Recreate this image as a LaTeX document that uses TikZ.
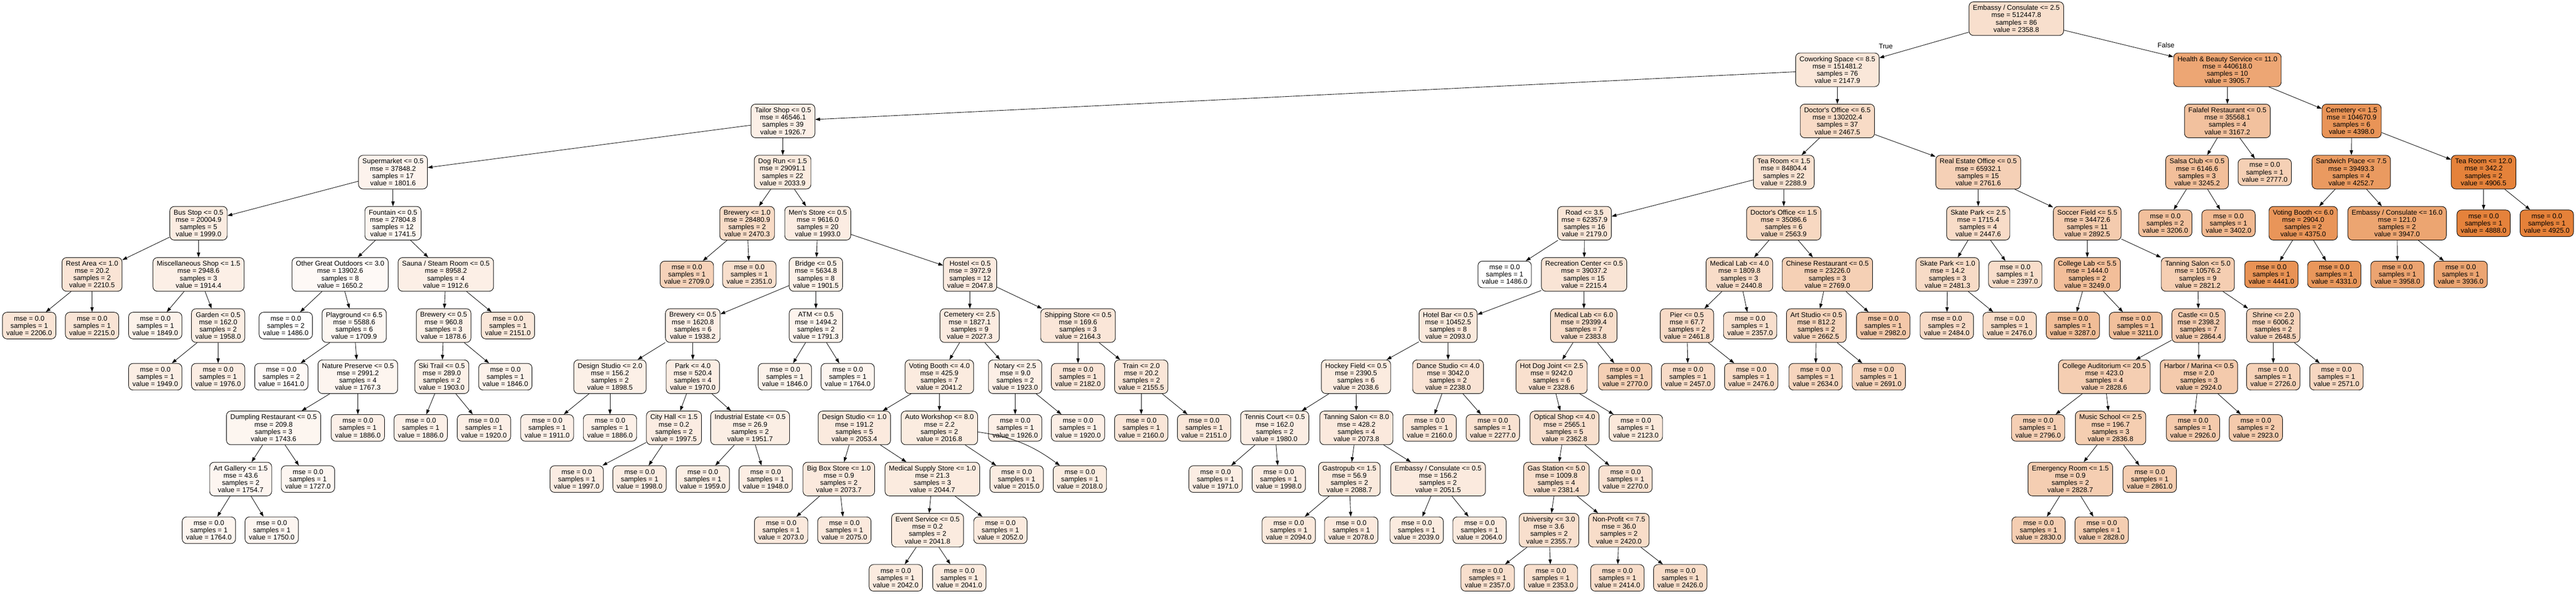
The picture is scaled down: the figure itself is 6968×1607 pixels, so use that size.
\documentclass[tikz,border=0pt]{standalone}
\usepackage{fontspec}
\setmainfont{Liberation Sans}
\usetikzlibrary{arrows.meta}
\definecolor{dtc}{RGB}{229,129,57}
\tikzset{
 dtbox/.style={draw=black, line width=1.3pt, rounded corners=12pt, align=center, inner xsep=10.5pt, inner ysep=0pt, font=\fontsize{18.7pt}{19.7pt}\selectfont},
 innode/.style={dtbox, minimum height=91pt},
 lfnode/.style={dtbox, minimum height=72pt},
 edge/.style={line width=1.2pt, -{Triangle[length=13pt,width=9pt]}},
 edgelabel/.style={font=\fontsize{18.7pt}{19.7pt}\selectfont, inner sep=0pt}
}
\newcommand\dtin[7]{\pgfmathsetmacro\dtpct{min(100,max(0,(#7-1486)/34.39))}\node[innode,fill=dtc!\dtpct!white] (#1) at (#2,{50.5+138.5*#3}) {#4\\mse = #5\\samples = #6\\value = #7};}
\newcommand\dtlf[5]{\pgfmathsetmacro\dtpct{min(100,max(0,(#5-1486)/34.39))}\node[lfnode,fill=dtc!\dtpct!white] (#1) at (#2,{50.5+138.5*#3}) {mse = 0.0\\samples = #4\\value = #5};}
\newcommand\dtedge[2]{\draw[edge] (#1) -- (#2);}
\begin{document}
\begin{tikzpicture}[x=1pt,y=-1pt]
\useasboundingbox (0,0) rectangle (6968,1607);
% rank 0
\dtin{n0}{5454}{0}{Embassy / Consulate <= 2.5}{512447.8}{86}{2358.8}
% rank 1
\dtin{n1}{4970}{1}{Coworking Space <= 8.5}{151481.2}{76}{2147.9}
\dtin{n2}{6025}{1}{Health \& Beauty Service <= 11.0}{440618.0}{10}{3905.7}
% rank 2
\dtin{n3}{2118}{2}{Tailor Shop <= 0.5}{46546.1}{39}{1926.7}
\dtin{n4}{4970}{2}{Doctor\textquotesingle s Office <= 6.5}{130202.4}{37}{2467.5}
\dtin{n5}{6025}{2}{Falafel Restaurant <= 0.5}{35568.1}{4}{3167.2}
\dtin{n6}{6361}{2}{Cemetery <= 1.5}{104670.9}{6}{4398.0}
% rank 3
\dtin{n7}{1063}{3}{Supermarket <= 0.5}{37848.2}{17}{1801.6}
\dtin{n8}{2117}{3}{Dog Run <= 1.5}{29091.1}{22}{2033.9}
\dtin{n9}{4825}{3}{Tea Room <= 1.5}{84804.4}{22}{2288.9}
\dtin{n10}{5351}{3}{Real Estate Office <= 0.5}{65932.1}{15}{2761.6}
\dtin{n11}{5943}{3}{Salsa Club <= 0.5}{6146.6}{3}{3245.2}
\dtlf{l12}{6126}{3}{1}{2777.0}
\dtin{n13}{6360}{3}{Sandwich Place <= 7.5}{39493.3}{4}{4252.7}
\dtin{n14}{6718}{3}{Tea Room <= 12.0}{342.2}{2}{4906.5}
% rank 4
\dtin{n15}{537}{4}{Bus Stop <= 0.5}{20004.9}{5}{1999.0}
\dtin{n16}{1063}{4}{Fountain <= 0.5}{27804.8}{12}{1741.5}
\dtin{n17}{2021}{4}{Brewery <= 1.0}{28480.9}{2}{2470.3}
\dtin{n18}{2212}{4}{Men\textquotesingle s Store <= 0.5}{9616.0}{20}{1993.0}
\dtin{n19}{4286}{4}{Road <= 3.5}{62357.9}{16}{2179.0}
\dtin{n20}{4825}{4}{Doctor\textquotesingle s Office <= 1.5}{35086.6}{6}{2563.9}
\dtin{n21}{5351}{4}{Skate Park <= 2.5}{1715.4}{4}{2447.6}
\dtin{n22}{5646}{4}{Soccer Field <= 5.5}{34472.6}{11}{2892.5}
\dtlf{l23}{5857}{4}{2}{3206.0}
\dtlf{l24}{6028}{4}{1}{3402.0}
\dtin{n25}{6230}{4}{Voting Booth <= 6.0}{2904.0}{2}{4375.0}
\dtin{n26}{6484}{4}{Embassy / Consulate <= 16.0}{121.0}{2}{3947.0}
\dtlf{l27}{6718}{4}{1}{4888.0}
\dtlf{l28}{6889}{4}{1}{4925.0}
% rank 5
\dtin{n29}{249}{5}{Rest Area <= 1.0}{20.2}{2}{2210.5}
\dtin{n30}{537}{5}{Miscellaneous Shop <= 1.5}{2948.6}{3}{1914.4}
\dtin{n31}{920}{5}{Other Great Outdoors <= 3.0}{13902.6}{8}{1650.2}
\dtin{n32}{1206}{5}{Sauna / Steam Room <= 0.5}{8958.2}{4}{1912.6}
\dtlf{l33}{1858}{5}{1}{2709.0}
\dtlf{l34}{2027}{5}{1}{2351.0}
\dtin{n35}{2207}{5}{Bridge <= 0.5}{5634.8}{8}{1901.5}
\dtin{n36}{2624}{5}{Hostel <= 0.5}{3972.9}{12}{2047.8}
\dtlf{l37}{4070}{5}{1}{1486.0}
\dtin{n38}{4285}{5}{Recreation Center <= 0.5}{39037.2}{15}{2215.4}
\dtin{n39}{4705}{5}{Medical Lab <= 4.0}{1809.8}{3}{2440.8}
\dtin{n40}{4943}{5}{Chinese Restaurant <= 0.5}{23226.0}{3}{2769.0}
\dtin{n41}{5268}{5}{Skate Park <= 1.0}{14.2}{3}{2481.3}
\dtlf{l42}{5451}{5}{1}{2397.0}
\dtin{n43}{5646}{5}{College Lab <= 5.5}{1444.0}{2}{3249.0}
\dtin{n44}{5945}{5}{Tanning Salon <= 5.0}{10576.2}{9}{2821.2}
\dtlf{l45}{6144}{5}{1}{4441.0}
\dtlf{l46}{6314}{5}{1}{4331.0}
\dtlf{l47}{6485}{5}{1}{3958.0}
\dtlf{l48}{6656}{5}{1}{3936.0}
% rank 6
\dtlf{l49}{79}{6}{1}{2206.0}
\dtlf{l50}{249}{6}{1}{2215.0}
\dtlf{l51}{420}{6}{1}{1849.0}
\dtin{n52}{590}{6}{Garden <= 0.5}{162.0}{2}{1958.0}
\dtlf{l53}{773}{6}{2}{1486.0}
\dtin{n54}{958}{6}{Playground <= 6.5}{5588.6}{6}{1709.9}
\dtin{n55}{1200}{6}{Brewery <= 0.5}{960.8}{3}{1878.6}
\dtlf{l56}{1374}{6}{1}{2151.0}
\dtin{n57}{1874}{6}{Brewery <= 0.5}{1620.8}{6}{1938.2}
\dtin{n58}{2207}{6}{ATM <= 0.5}{1494.2}{2}{1791.3}
\dtin{n59}{2623}{6}{Cemetery <= 2.5}{1827.1}{9}{2027.3}
\dtin{n60}{2916}{6}{Shipping Store <= 0.5}{169.6}{3}{2164.3}
\dtin{n61}{3917}{6}{Hotel Bar <= 0.5}{10452.5}{8}{2093.0}
\dtin{n62}{4284}{6}{Medical Lab <= 6.0}{29399.4}{7}{2383.8}
\dtin{n63}{4563}{6}{Pier <= 0.5}{67.7}{2}{2461.8}
\dtlf{l64}{4734}{6}{1}{2357.0}
\dtin{n65}{4913}{6}{Art Studio <= 0.5}{812.2}{2}{2662.5}
\dtlf{l66}{5094}{6}{1}{2982.0}
\dtlf{l67}{5266}{6}{2}{2484.0}
\dtlf{l68}{5436}{6}{1}{2476.0}
\dtlf{l69}{5607}{6}{1}{3287.0}
\dtlf{l70}{5777}{6}{1}{3211.0}
\dtin{n71}{5947}{6}{Castle <= 0.5}{2398.2}{7}{2864.4}
\dtin{n72}{6149}{6}{Shrine <= 2.0}{6006.2}{2}{2648.5}
% rank 7
\dtlf{l73}{420}{7}{1}{1949.0}
\dtlf{l74}{590}{7}{1}{1976.0}
\dtlf{l75}{761}{7}{2}{1641.0}
\dtin{n76}{968}{7}{Nature Preserve <= 0.5}{2991.2}{4}{1767.3}
\dtin{n77}{1195}{7}{Ski Trail <= 0.5}{289.0}{2}{1903.0}
\dtlf{l78}{1367}{7}{1}{1846.0}
\dtin{n79}{1650}{7}{Design Studio <= 2.0}{156.2}{2}{1898.5}
\dtin{n80}{1874}{7}{Park <= 4.0}{520.4}{4}{1970.0}
\dtlf{l81}{2123}{7}{1}{1846.0}
\dtlf{l82}{2293}{7}{1}{1764.0}
\dtin{n83}{2541}{7}{Voting Booth <= 4.0}{425.9}{7}{2041.2}
\dtin{n84}{2746}{7}{Notary <= 2.5}{9.0}{2}{1923.0}
\dtlf{l85}{2916}{7}{1}{2182.0}
\dtin{n86}{3087}{7}{Train <= 2.0}{20.2}{2}{2155.5}
\dtin{n87}{3668}{7}{Hockey Field <= 0.5}{2390.5}{6}{2038.6}
\dtin{n88}{3917}{7}{Dance Studio <= 4.0}{3042.0}{2}{2238.0}
\dtin{n89}{4197}{7}{Hot Dog Joint <= 2.5}{9242.0}{6}{2328.6}
\dtlf{l90}{4396}{7}{1}{2770.0}
\dtlf{l91}{4566}{7}{1}{2457.0}
\dtlf{l92}{4737}{7}{1}{2476.0}
\dtlf{l93}{4911}{7}{1}{2634.0}
\dtlf{l94}{5082}{7}{1}{2691.0}
\dtin{n95}{5692}{7}{College Auditorium <= 20.5}{423.0}{4}{2828.6}
\dtin{n96}{5948}{7}{Harbor / Marina <= 0.5}{2.0}{3}{2924.0}
\dtlf{l97}{6149}{7}{1}{2726.0}
\dtlf{l98}{6320}{7}{1}{2571.0}
% rank 8
\dtin{n99}{740}{8}{Dumpling Restaurant <= 0.5}{209.8}{3}{1743.6}
\dtlf{l100}{968}{8}{1}{1886.0}
\dtlf{l101}{1138}{8}{1}{1886.0}
\dtlf{l102}{1309}{8}{1}{1920.0}
\dtlf{l103}{1480}{8}{1}{1911.0}
\dtlf{l104}{1650}{8}{1}{1886.0}
\dtin{n105}{1823}{8}{City Hall <= 1.5}{0.2}{2}{1997.5}
\dtin{n106}{2029}{8}{Industrial Estate <= 0.5}{26.9}{2}{1951.7}
\dtin{n107}{2311}{8}{Design Studio <= 1.0}{191.2}{5}{2053.4}
\dtin{n108}{2541}{8}{Auto Workshop <= 8.0}{2.2}{2}{2016.8}
\dtlf{l109}{2746}{8}{1}{1926.0}
\dtlf{l110}{2916}{8}{1}{1920.0}
\dtlf{l111}{3087}{8}{1}{2160.0}
\dtlf{l112}{3257}{8}{1}{2151.0}
\dtin{n113}{3448}{8}{Tennis Court <= 0.5}{162.0}{2}{1980.0}
\dtin{n114}{3669}{8}{Tanning Salon <= 8.0}{428.2}{4}{2073.8}
\dtlf{l115}{3867}{8}{1}{2160.0}
\dtlf{l116}{4038}{8}{1}{2277.0}
\dtin{n117}{4232}{8}{Optical Shop <= 4.0}{2565.1}{5}{2362.8}
\dtlf{l118}{4425}{8}{1}{2123.0}
\dtlf{l119}{5513}{8}{1}{2796.0}
\dtin{n120}{5709}{8}{Music School <= 2.5}{196.7}{3}{2836.8}
\dtlf{l121}{5932}{8}{1}{2926.0}
\dtlf{l122}{6102}{8}{2}{2923.0}
% rank 9
\dtin{n123}{651}{9}{Art Gallery <= 1.5}{43.6}{2}{1754.7}
\dtlf{l124}{833}{9}{1}{1727.0}
\dtlf{l125}{1560}{9}{1}{1997.0}
\dtlf{l126}{1730}{9}{1}{1998.0}
\dtlf{l127}{1901}{9}{1}{1959.0}
\dtlf{l128}{2071}{9}{1}{1948.0}
\dtin{n129}{2269}{9}{Big Box Store <= 1.0}{0.9}{2}{2073.7}
\dtin{n130}{2522}{9}{Medical Supply Store <= 1.0}{21.3}{3}{2044.7}
\dtlf{l131}{2750}{9}{1}{2015.0}
\dtlf{l132}{2921}{9}{1}{2018.0}
\dtlf{l133}{3288}{9}{1}{1971.0}
\dtlf{l134}{3459}{9}{1}{1998.0}
\dtin{n135}{3650}{9}{Gastropub <= 1.5}{56.9}{2}{2088.7}
\dtin{n136}{3890}{9}{Embassy / Consulate <= 0.5}{156.2}{2}{2051.5}
\dtin{n137}{4210}{9}{Gas Station <= 5.0}{1009.8}{4}{2381.4}
\dtlf{l138}{4397}{9}{1}{2270.0}
\dtin{n139}{5600}{9}{Emergency Room <= 1.5}{0.9}{2}{2828.7}
\dtlf{l140}{5815}{9}{1}{2861.0}
% rank 10
\dtlf{l141}{565}{10}{1}{1764.0}
\dtlf{l142}{735}{10}{1}{1750.0}
\dtlf{l143}{2113}{10}{1}{2073.0}
\dtlf{l144}{2284}{10}{1}{2075.0}
\dtin{n145}{2509}{10}{Event Service <= 0.5}{0.2}{2}{2041.8}
\dtlf{l146}{2706}{10}{1}{2052.0}
\dtlf{l147}{3486}{10}{1}{2094.0}
\dtlf{l148}{3655}{10}{1}{2078.0}
\dtlf{l149}{3832}{10}{1}{2039.0}
\dtlf{l150}{4002}{10}{1}{2064.0}
\dtin{n151}{4190}{10}{University <= 3.0}{3.6}{2}{2355.7}
\dtin{n152}{4379}{10}{Non-Profit <= 7.5}{36.0}{2}{2420.0}
\dtlf{l153}{5514}{10}{1}{2830.0}
\dtlf{l154}{5685}{10}{1}{2828.0}
% rank 11
\dtlf{l155}{2423}{10.931}{1}{2042.0}
\dtlf{l156}{2595}{10.931}{1}{2041.0}
\dtlf{l157}{4024}{10.931}{1}{2357.0}
\dtlf{l158}{4195}{10.931}{1}{2353.0}
\dtlf{l159}{4375}{10.931}{1}{2414.0}
\dtlf{l160}{4545}{10.931}{1}{2426.0}
% edge labels
\node[edgelabel] (ltrue) at (5101,125) {True};
\node[edgelabel] (lfalse) at (5859,122) {False};
% edges
\dtedge{n0}{n1}\dtedge{n0}{n2}
\dtedge{n1}{n3}\dtedge{n1}{n4}
\dtedge{n2}{n5}\dtedge{n2}{n6}
\dtedge{n3}{n7}\dtedge{n3}{n8}
\dtedge{n4}{n9}\dtedge{n4}{n10}
\dtedge{n5}{n11}\dtedge{n5}{l12}
\dtedge{n6}{n13}\dtedge{n6}{n14}
\dtedge{n7}{n15}\dtedge{n7}{n16}
\dtedge{n8}{n17}\dtedge{n8}{n18}
\dtedge{n9}{n19}\dtedge{n9}{n20}
\dtedge{n10}{n21}\dtedge{n10}{n22}
\dtedge{n11}{l23}\dtedge{n11}{l24}
\dtedge{n13}{n25}\dtedge{n13}{n26}
\dtedge{n14}{l27}\dtedge{n14}{l28}
\dtedge{n15}{n29}\dtedge{n15}{n30}
\dtedge{n16}{n31}\dtedge{n16}{n32}
\dtedge{n17}{l33}\dtedge{n17}{l34}
\dtedge{n18}{n35}\dtedge{n18}{n36}
\dtedge{n19}{l37}\dtedge{n19}{n38}
\dtedge{n20}{n39}\dtedge{n20}{n40}
\dtedge{n21}{n41}\dtedge{n21}{l42}
\dtedge{n22}{n43}\dtedge{n22}{n44}
\dtedge{n25}{l45}\dtedge{n25}{l46}
\dtedge{n26}{l47}\dtedge{n26}{l48}
\dtedge{n29}{l49}\dtedge{n29}{l50}
\dtedge{n30}{l51}\dtedge{n30}{n52}
\dtedge{n31}{l53}\dtedge{n31}{n54}
\dtedge{n32}{n55}\dtedge{n32}{l56}
\dtedge{n35}{n57}\dtedge{n35}{n58}
\dtedge{n36}{n59}\dtedge{n36}{n60}
\dtedge{n38}{n61}\dtedge{n38}{n62}
\dtedge{n39}{n63}\dtedge{n39}{l64}
\dtedge{n40}{n65}\dtedge{n40}{l66}
\dtedge{n41}{l67}\dtedge{n41}{l68}
\dtedge{n43}{l69}\dtedge{n43}{l70}
\dtedge{n44}{n71}\dtedge{n44}{n72}
\dtedge{n52}{l73}\dtedge{n52}{l74}
\dtedge{n54}{l75}\dtedge{n54}{n76}
\dtedge{n55}{n77}\dtedge{n55}{l78}
\dtedge{n57}{n79}\dtedge{n57}{n80}
\dtedge{n58}{l81}\dtedge{n58}{l82}
\dtedge{n59}{n83}\dtedge{n59}{n84}
\dtedge{n60}{l85}\dtedge{n60}{n86}
\dtedge{n61}{n87}\dtedge{n61}{n88}
\dtedge{n62}{n89}\dtedge{n62}{l90}
\dtedge{n63}{l91}\dtedge{n63}{l92}
\dtedge{n65}{l93}\dtedge{n65}{l94}
\dtedge{n71}{n95}\dtedge{n71}{n96}
\dtedge{n72}{l97}\dtedge{n72}{l98}
\dtedge{n76}{n99}\dtedge{n76}{l100}
\dtedge{n77}{l101}\dtedge{n77}{l102}
\dtedge{n79}{l103}\dtedge{n79}{l104}
\dtedge{n80}{n105}\dtedge{n80}{n106}
\dtedge{n83}{n107}\dtedge{n83}{n108}
\dtedge{n84}{l109}\dtedge{n84}{l110}
\dtedge{n86}{l111}\dtedge{n86}{l112}
\dtedge{n87}{n113}\dtedge{n87}{n114}
\dtedge{n88}{l115}\dtedge{n88}{l116}
\dtedge{n89}{n117}\dtedge{n89}{l118}
\dtedge{n95}{l119}\dtedge{n95}{n120}
\dtedge{n96}{l121}\dtedge{n96}{l122}
\dtedge{n99}{n123}\dtedge{n99}{l124}
\dtedge{n105}{l125}\dtedge{n105}{l126}
\dtedge{n106}{l127}\dtedge{n106}{l128}
\dtedge{n107}{n129}\dtedge{n107}{n130}
\dtedge{n108}{l131}
\draw[edge] (n108) to[bend left=14] (l132);
\dtedge{n113}{l133}\dtedge{n113}{l134}
\dtedge{n114}{n135}\dtedge{n114}{n136}
\dtedge{n117}{n137}\dtedge{n117}{l138}
\dtedge{n120}{n139}\dtedge{n120}{l140}
\dtedge{n123}{l141}\dtedge{n123}{l142}
\dtedge{n129}{l143}\dtedge{n129}{l144}
\dtedge{n130}{n145}\dtedge{n130}{l146}
\dtedge{n135}{l147}\dtedge{n135}{l148}
\dtedge{n136}{l149}\dtedge{n136}{l150}
\dtedge{n137}{n151}\dtedge{n137}{n152}
\dtedge{n139}{l153}\dtedge{n139}{l154}
\dtedge{n145}{l155}\dtedge{n145}{l156}
\dtedge{n151}{l157}\dtedge{n151}{l158}
\dtedge{n152}{l159}\dtedge{n152}{l160}
\end{tikzpicture}
\end{document}
